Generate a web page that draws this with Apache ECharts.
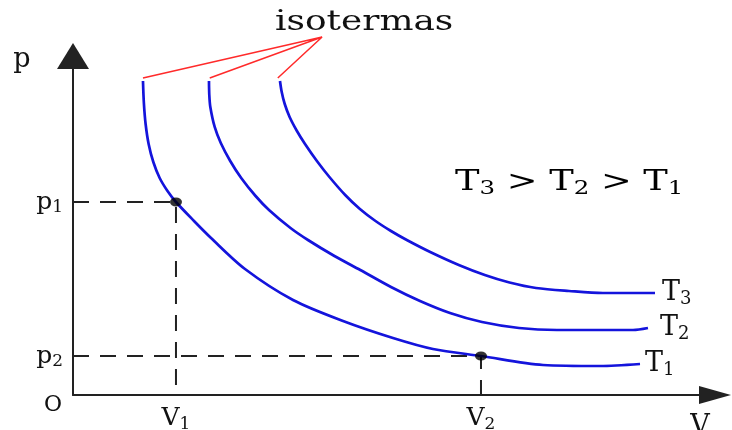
<!DOCTYPE html>
<html><head><meta charset="utf-8">
<script src="https://cdn.jsdelivr.net/npm/echarts@6/dist/echarts.min.js"></script>
<style>html,body{margin:0;padding:0;background:#fff}#c{width:732px;height:430px}</style>
</head><body><div id="c"></div>
<script>
// Isotherm T1
const t1V = [1.090, 1.104, 1.131, 1.178, 1.251, 1.350, 1.472, 1.604, 1.885, 2.150, 2.679, 3.427, 4.206, 4.984, 5.607, 6.355, 7.321, 8.209, 8.832];
const t1P = [9.263, 8.614, 7.994, 7.404, 6.873, 6.401, 6.018, 5.693, 5.133, 4.631, 3.717, 2.802, 2.183, 1.681, 1.357, 1.15, 0.885, 0.855, 0.914];
// Isotherm T2
const t2V = [2.118, 2.123, 2.139, 2.207, 2.302, 2.449, 2.620, 2.844, 3.053, 3.388, 3.660, 4.072, 4.475, 4.953, 5.405, 5.872, 6.371, 6.947, 7.539, 8.723, 8.956];
const t2P = [9.263, 8.850, 8.496, 7.906, 7.434, 6.903, 6.401, 5.870, 5.457, 4.926, 4.572, 4.100, 3.687, 3.186, 2.773, 2.419, 2.153, 1.976, 1.917, 1.917, 1.976];
// Isotherm T3
const t3V = [3.224, 3.251, 3.298, 3.374, 3.488, 3.614, 3.799, 3.994, 4.240, 4.469, 4.712, 4.953, 5.199, 5.564, 6.009, 6.414, 6.799, 7.212, 7.726, 8.255, 9.065];
const t3P = [9.263, 8.938, 8.584, 8.201, 7.788, 7.404, 6.903, 6.431, 5.900, 5.487, 5.133, 4.838, 4.572, 4.218, 3.835, 3.540, 3.319, 3.156, 3.068, 3.009, 3.009];

// Marked states
const V1 = 1.604, V2 = 6.355, P1 = 5.693, P2 = 1.15;
const xTickValues = [V1, V2];
const xTickSubs = ['1', '2'];
const yTickValues = [P2, P1];
const yTickSubs = ['2', '1'];
const curveSubs = ['1', '2', '3'];

// "isotermas" pointer lines
const pointerApex = [3.88, 10.56];
const pointerEnds = [[1.09, 9.35], [2.13, 9.35], [3.19, 9.35]];

const SERIF = '"DejaVu Serif", "Liberation Serif", serif';
const INK = '#111';
const BLUE = '#1414dc';

const zip = (a, b) => a.map((v, i) => [v, b[i]]);
const idxOf = (arr, v) => arr.findIndex(x => Math.abs(x - v) < 1e-6);

const richAxis = {
  m: { fontFamily: SERIF, fontSize: 25, color: INK },
  s: { fontFamily: SERIF, fontSize: 17, color: INK, padding: [12, 0, 0, 0] }
};
const richT = {
  m: { fontFamily: SERIF, fontSize: 27, color: INK },
  s: { fontFamily: SERIF, fontSize: 18, color: INK, padding: [13, 0, 0, 0] }
};

const curves = [zip(t1V, t1P), zip(t2V, t2P), zip(t3V, t3P)];
const endDist = [5, 12, 7];

const pointerData = [pointerEnds[0], pointerApex, pointerEnds[1], pointerApex, pointerEnds[2]];

const option = {
  animation: false,
  backgroundColor: '#fff',
  grid: { left: 73, right: 17, top: 56, bottom: 35, containLabel: false, outerBoundsMode: 'none' },
  xAxis: {
    type: 'value', min: 0, max: 10,
    splitLine: { show: false },
    axisTick: { show: false },
    axisLine: { show: true, lineStyle: { color: '#222', width: 2 }, symbol: ['none', 'triangle'], symbolSize: [18, 32] },
    axisLabel: {
      customValues: xTickValues, margin: 9,
      formatter: v => '{m|V}{s|' + xTickSubs[idxOf(xTickValues, v)] + '}',
      rich: richAxis
    }
  },
  yAxis: {
    type: 'value', min: 0, max: 10,
    splitLine: { show: false },
    axisTick: { show: false },
    axisLine: { show: true, lineStyle: { color: '#222', width: 2 }, symbol: ['none', 'triangle'], symbolSize: [32, 26] },
    axisLabel: {
      customValues: yTickValues, margin: 10,
      formatter: v => '{m|p}{s|' + yTickSubs[idxOf(yTickValues, v)] + '}',
      rich: richAxis
    }
  },
  graphic: [
    { type: 'text', x: 22, y: 60, style: { text: 'p', font: '27px ' + SERIF, fill: INK, align: 'center', verticalAlign: 'middle' } },
    { type: 'text', x: 53, y: 405, style: { text: 'O', font: '22px ' + SERIF, fill: INK, align: 'center', verticalAlign: 'middle' } },
    { type: 'text', x: 700, y: 427, style: { text: 'V', font: '27px ' + SERIF, fill: INK, align: 'center', verticalAlign: 'middle' } },
    { type: 'text', x: 275, y: 23, scaleX: 1.33, style: { text: 'isotermas', font: '27px ' + SERIF, fill: INK, align: 'left', verticalAlign: 'middle' } },
    { type: 'text', x: 455, y: 183, scaleX: 1.36, style: {
        text: '{m|T}{s|3}{m| > T}{s|2}{m| > T}{s|1}', align: 'left', verticalAlign: 'middle',
        rich: { m: { fontFamily: SERIF, fontSize: 27, color: INK }, s: { fontFamily: SERIF, fontSize: 18, color: INK, padding: [13, 0, 0, 0] } }
      } }
  ],
  series: [
    {
      type: 'line', name: 'p1 guide', data: [[0, P1], [V1, P1], [V1, 0]], symbol: 'none', silent: true, z: 1,
      lineStyle: { color: '#222', width: 2, type: [16, 11] }
    },
    {
      type: 'line', name: 'p2 guide', data: [[0, P2], [V2, P2], [V2, 0]], symbol: 'none', silent: true, z: 1,
      lineStyle: { color: '#222', width: 2, type: [16, 11] }
    },
    ...curves.map((d, i) => ({
      type: 'line', name: 'T' + curveSubs[i], data: d, symbol: 'none', smooth: 0.3, silent: true, z: 3,
      lineStyle: { color: BLUE, width: 2.7 },
      endLabel: { show: true, distance: endDist[i], formatter: '{m|T}{s|' + curveSubs[i] + '}', rich: richT }
    })),
    {
      type: 'line', name: 'isotermas', data: pointerData, symbol: 'none', clip: false, silent: true, z: 2,
      lineStyle: { color: '#ff2a2a', width: 1.5 }
    },
    {
      type: 'scatter', name: 'states', data: [[V1, P1], [V2, P2]], symbol: 'circle', symbolSize: [12, 9], silent: true, z: 4,
      itemStyle: { color: '#000' }
    }
  ]
};
const chart = echarts.init(document.getElementById('c'));
chart.setOption(option);
</script></body></html>
